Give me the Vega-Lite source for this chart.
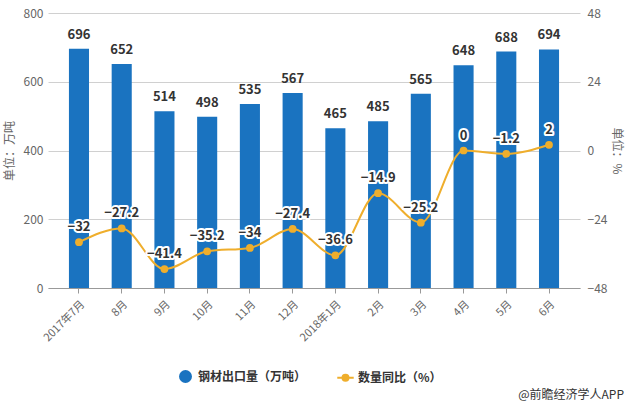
{
  "$schema": "https://vega.github.io/schema/vega-lite/v6.json",
  "autosize": {"type": "none"},
  "width": 532,
  "height": 275,
  "padding": {"left": 48, "top": 13, "right": 48, "bottom": 118},
  "background": "white",
  "config": {
    "view": {"stroke": null},
    "font": "Noto Sans CJK SC",
    "axis": {"labelFont": "Noto Sans CJK SC", "titleFont": "Noto Sans CJK SC", "labelColor": "#666", "titleColor": "#666", "labelFontSize": 12, "titleFontSize": 12, "titleFontWeight": "normal"}
  },
  "title": {"text": "@前瞻经济学人APP", "orient": "bottom", "anchor": "end", "fontSize": 12, "fontWeight": "normal", "color": "#333", "font": "Noto Sans CJK SC", "offset": 4, "dx": 1},
  "data": {"values": [
    {"month": "2017年7月", "export": 696, "yoy": -32},
    {"month": "8月", "export": 652, "yoy": -27.2},
    {"month": "9月", "export": 514, "yoy": -41.4},
    {"month": "10月", "export": 498, "yoy": -35.2},
    {"month": "11月", "export": 535, "yoy": -34},
    {"month": "12月", "export": 567, "yoy": -27.4},
    {"month": "2018年1月", "export": 465, "yoy": -36.6},
    {"month": "2月", "export": 485, "yoy": -14.9},
    {"month": "3月", "export": 565, "yoy": -25.2},
    {"month": "4月", "export": 648, "yoy": 0},
    {"month": "5月", "export": 688, "yoy": -1.2},
    {"month": "6月", "export": 694, "yoy": 2}
  ]},
  "encoding": {
    "x": {"field": "month", "type": "nominal", "sort": null,
      "scale": {"paddingInner": 0.53, "paddingOuter": 0.49},
      "axis": {"title": null, "labelAngle": -45, "labelFontSize": 11, "domainColor": "#999", "tickColor": "#999", "tickSize": 5, "labelPadding": 5}}
  },
  "layer": [
    {
      "encoding": {
        "y": {"field": "export", "type": "quantitative",
          "scale": {"domain": [0, 800], "nice": false},
          "axis": {"title": "单位：万吨", "values": [0, 200, 400, 600, 800], "grid": true, "gridColor": "#d0d0d0", "domain": false, "ticks": false, "labelPadding": 5, "titlePadding": 7}}
      },
      "layer": [
        {"mark": {"type": "bar", "color": "#1a73c0"},
         "encoding": {"color": {"datum": "钢材出口量（万吨）", "type": "nominal",
           "scale": {"domain": ["钢材出口量（万吨）", "数量同比（%）"], "range": ["#1a73c0", "#efae2c"]},
           "legend": {"orient": "none", "legendX": 131, "legendY": 357, "direction": "horizontal", "title": null,
             "labelFont": "Noto Sans CJK SC", "labelFontSize": 12, "labelFontWeight": "bold", "labelColor": "#333",
             "symbolSize": 120, "columnPadding": 26, "labelOffset": 6, "padding": 0,
             "encode": {"symbols": {"update": {
               "shape": {"signal": "datum.value === '数量同比（%）' ? 'M-1.5,0H1.5M0.55,0A0.55,0.55,0,1,1,-0.55,0A0.55,0.55,0,1,1,0.55,0' : 'circle'"},
               "fill": {"signal": "scale('color', datum.value)"},
               "stroke": {"signal": "scale('color', datum.value)"},
               "strokeWidth": {"value": 2},
               "opacity": {"value": 1}
             }}}}}}},
        {"mark": {"type": "text", "baseline": "bottom", "dy": -7, "fontSize": 13, "fontWeight": "bold", "color": "#333"},
         "encoding": {"text": {"field": "export", "type": "quantitative"}}}
      ]
    },
    {
      "encoding": {
        "y": {"field": "yoy", "type": "quantitative",
          "scale": {"domain": [-48, 48], "nice": false},
          "axis": {"title": "单位：%", "orient": "right", "values": [-48, -24, 0, 24, 48], "grid": false, "domain": false, "ticks": false, "labelPadding": 7, "titlePadding": 3, "titleAngle": 90}}
      },
      "layer": [
        {"mark": {"type": "line", "interpolate": "monotone", "strokeWidth": 2, "color": "#efae2c",
                  "point": {"filled": true, "size": 60, "color": "#efae2c"}},
         "encoding": {"color": {"datum": "数量同比（%）", "type": "nominal"}}},
        {"mark": {"type": "text", "baseline": "bottom", "dy": -8, "fontSize": 13, "fontWeight": "bold", "color": "white", "stroke": "white", "strokeWidth": 4, "strokeJoin": "round"},
         "encoding": {"text": {"field": "yoy", "type": "quantitative"}}},
        {"mark": {"type": "text", "baseline": "bottom", "dy": -8, "fontSize": 13, "fontWeight": "bold", "color": "#333"},
         "encoding": {"text": {"field": "yoy", "type": "quantitative"}}}
      ]
    }
  ],
  "resolve": {"scale": {"y": "independent"}}
}
